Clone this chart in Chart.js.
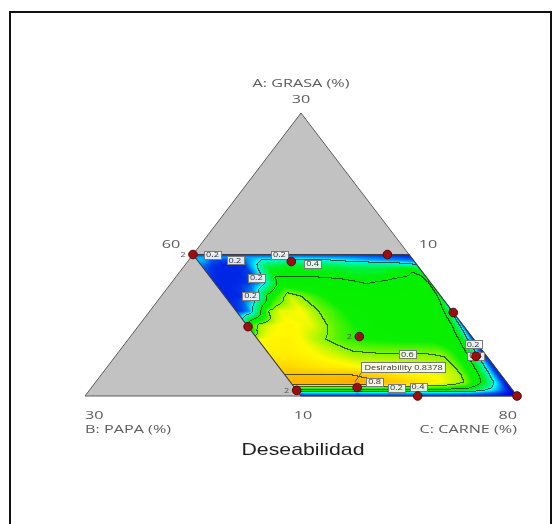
<!DOCTYPE html>
<html>
<head>
<meta charset="utf-8">
<script src="https://cdn.jsdelivr.net/npm/chart.js@4.4.1/dist/chart.umd.min.js"></script>
<style>
  html, body { margin: 0; padding: 0; background: #ffffff; }
  canvas { display: block; }
</style>
</head>
<body>
<canvas id="chart" width="560" height="524"></canvas>
<script>
// ---- Mixture components (%), A + B + C = 100 ----
const axisTitles = ['A: GRASA (%)', 'B: PAPA (%)', 'C: CARNE (%)'];
const lowA = 10, lowB = 10, lowC = 60, span = 20;

// Simplex corners (A, B); C = 100 - A - B
const simplexA = [30, 10, 10];
const simplexB = [10, 30, 10];
const simplexTicks = ['30', '30', '80'];

// Constrained design region corners (A, B)
const regionA = [20, 20, 10, 10];
const regionB = [20, 10, 10, 20];
const regionTicks = ['60', '10', '10'];   // top-left (C), top-right (B), bottom-left (A)

// Desirability surface sampled on a grid of A (rows) and B (columns)
const gridA = [20, 19.8, 19.6, 19.3, 19, 18.5, 18, 17, 16, 15, 14, 13, 12, 11.5, 11, 10.8, 10.6, 10.4, 10.2, 10];
const gridB = [20, 19.7, 19.4, 19, 18.5, 18, 17, 16, 15, 14, 13, 12, 11, 10.5, 10.2, 10];
const desirability = [
  [0.03, 0.03, 0.03, 0.03, 0.03, 0.03, 0.03, 0.03, 0.03, 0.03, 0.03, 0.02, 0.02, 0.02, 0.02, 0.02],
  [0.12, 0.12, 0.11, 0.10, 0.10, 0.10, 0.12, 0.12, 0.12, 0.11, 0.10, 0.08, 0.06, 0.05, 0.04, 0.04],
  [0.14, 0.12, 0.06, 0.04, 0.04, 0.04, 0.20, 0.22, 0.22, 0.20, 0.16, 0.12, 0.10, 0.09, 0.08, 0.08],
  [0.10, 0.06, 0.03, 0.02, 0.02, 0.03, 0.30, 0.33, 0.31, 0.29, 0.27, 0.26, 0.24, 0.22, 0.20, 0.18],
  [0.06, 0.03, 0.02, 0.02, 0.02, 0.03, 0.35, 0.37, 0.36, 0.35, 0.33, 0.33, 0.36, 0.39, 0.37, 0.30],
  [0.03, 0.02, 0.02, 0.02, 0.02, 0.05, 0.39, 0.39, 0.39, 0.38, 0.36, 0.37, 0.39, 0.41, 0.40, 0.36],
  [0.02, 0.02, 0.02, 0.02, 0.03, 0.08, 0.43, 0.44, 0.43, 0.42, 0.395, 0.41, 0.44, 0.45, 0.43, 0.38],
  [0.02, 0.02, 0.02, 0.04, 0.15, 0.45, 0.66, 0.55, 0.47, 0.46, 0.45, 0.45, 0.46, 0.46, 0.42, 0.35],
  [0.03, 0.04, 0.10, 0.30, 0.60, 0.68, 0.70, 0.58, 0.50, 0.48, 0.47, 0.47, 0.48, 0.44, 0.35, 0.15],
  [0.30, 0.55, 0.63, 0.68, 0.70, 0.71, 0.68, 0.57, 0.50, 0.48, 0.47, 0.47, 0.48, 0.40, 0.25, 0.05],
  [0.69, 0.70, 0.71, 0.71, 0.71, 0.70, 0.61, 0.54, 0.50, 0.49, 0.48, 0.48, 0.47, 0.36, 0.15, 0.02],
  [0.72, 0.72, 0.72, 0.72, 0.71, 0.70, 0.66, 0.61, 0.60, 0.60, 0.60, 0.59, 0.46, 0.30, 0.08, 0.01],
  [0.76, 0.76, 0.76, 0.75, 0.74, 0.73, 0.72, 0.70, 0.69, 0.68, 0.67, 0.63, 0.42, 0.22, 0.06, 0.01],
  [0.80, 0.80, 0.80, 0.80, 0.80, 0.80, 0.80, 0.77, 0.74, 0.71, 0.69, 0.64, 0.40, 0.20, 0.05, 0.01],
  [0.82, 0.82, 0.82, 0.82, 0.82, 0.82, 0.8378, 0.81, 0.78, 0.74, 0.70, 0.62, 0.36, 0.17, 0.04, 0.01],
  [0.80, 0.81, 0.81, 0.81, 0.81, 0.81, 0.81, 0.78, 0.74, 0.70, 0.65, 0.56, 0.30, 0.14, 0.03, 0.00],
  [0.56, 0.58, 0.58, 0.58, 0.58, 0.58, 0.58, 0.57, 0.56, 0.55, 0.52, 0.45, 0.24, 0.10, 0.02, 0.00],
  [0.38, 0.40, 0.40, 0.40, 0.40, 0.40, 0.40, 0.40, 0.39, 0.38, 0.36, 0.32, 0.16, 0.06, 0.01, 0.00],
  [0.10, 0.12, 0.12, 0.12, 0.12, 0.12, 0.12, 0.12, 0.12, 0.12, 0.11, 0.10, 0.05, 0.02, 0.00, 0.00],
  [0.02, 0.02, 0.02, 0.02, 0.02, 0.02, 0.02, 0.02, 0.02, 0.02, 0.02, 0.01, 0.01, 0.00, 0.00, 0.00]
];
const contourLevels = [0.2, 0.4, 0.6, 0.8];

// Design points (A, B) and replicate counts
const pointA = [20, 20, 19.5, 14.9, 15.9, 14.2, 12.8, 10, 10, 10.6, 10.4];
const pointB = [20, 11, 15.7, 20, 10, 15.2, 10.5, 10, 14.6, 17.1, 20];
const pointRuns = [2, 1, 1, 1, 1, 2, 1, 1, 1, 1, 2];

// Contour value tags (A, B, text)
const tagA = [20, 20, 19.58, 19.33, 18.34, 17.07, 12.95, 13.67, 12.83, 10.99, 10.57, 10.67];
const tagB = [19.1, 16.0, 18.27, 14.8, 17.9, 18.8, 13.6, 10.2, 10.5, 16.1, 15.3, 14.25];
const tagText = ['0.2', '0.2', '0.2', '0.4', '0.2', '0.2', '0.6', '0.2', '0.4', '0.8', '0.2', '0.4'];

// Optimum flag
const optimumA = 11, optimumB = 17;
const chartTitle = 'Deseabilidad';

// ---- helpers ----
function toXY(A, B) {
  const a = (A - lowA) / span, b = (B - lowB) / span, c = 1 - a - b;
  return { x: c + a / 2, y: a };
}
function fromXY(x, y) {
  const a = y, c = x - a / 2, b = 1 - a - c;
  return { A: lowA + span * a, B: lowB + span * b };
}
function bracket(arr, v) {
  for (let i = 0; i < arr.length - 1; i++) {
    if (v <= arr[i] && v >= arr[i + 1]) return [i, (arr[i] - v) / (arr[i] - arr[i + 1])];
  }
  return v > arr[0] ? [0, 0] : [arr.length - 2, 1];
}
function sample(A, B) {
  const [i, t] = bracket(gridA, A);
  const [j, s] = bracket(gridB, B);
  const r0 = desirability[i], r1 = desirability[i + 1];
  const top = r0[j] * (1 - s) + r0[j + 1] * s;
  const bot = r1[j] * (1 - s) + r1[j + 1] * s;
  return top * (1 - t) + bot * t;
}
// colour ramp: blue - cyan - green - yellow - orange - red
const stopVals = [0, 0.17, 0.38, 0.50, 0.70, 0.85, 1.0];
const stopRGB = [[0, 10, 225], [0, 245, 255], [0, 240, 0], [10, 240, 0], [255, 250, 0], [255, 160, 0], [255, 0, 0]];
function colour(v) {
  if (v <= stopVals[0]) return stopRGB[0];
  for (let k = 0; k < stopVals.length - 1; k++) {
    if (v <= stopVals[k + 1]) {
      const f = (v - stopVals[k]) / (stopVals[k + 1] - stopVals[k]);
      const p = stopRGB[k], q = stopRGB[k + 1];
      return [p[0] + (q[0] - p[0]) * f, p[1] + (q[1] - p[1]) * f, p[2] + (q[2] - p[2]) * f];
    }
  }
  return stopRGB[stopRGB.length - 1];
}
function wideText(ctx, txt, x, y, align, font, color, sx) {
  ctx.save();
  ctx.font = font;
  ctx.fillStyle = color;
  ctx.textAlign = align;
  ctx.textBaseline = 'alphabetic';
  ctx.translate(x, y);
  ctx.scale(sx, 1);
  ctx.fillText(txt, 0, 0);
  ctx.restore();
}
function px(chart, A, B) {
  const p = toXY(A, B);
  return { x: chart.scales.x.getPixelForValue(p.x), y: chart.scales.y.getPixelForValue(p.y) };
}

// ---- surface with contour lines, painted inside the design region ----
function drawSurface(chart) {
  const ctx = chart.ctx, xs = chart.scales.x, ys = chart.scales.y;
  const corners = regionA.map((A, i) => px(chart, A, regionB[i]));
  const x0 = Math.floor(Math.min(...corners.map(p => p.x))) - 2;
  const x1 = Math.ceil(Math.max(...corners.map(p => p.x))) + 2;
  const y0 = Math.floor(Math.min(...corners.map(p => p.y))) - 2;
  const y1 = Math.ceil(Math.max(...corners.map(p => p.y))) + 2;
  const w = x1 - x0, h = y1 - y0;
  const vals = new Float32Array(w * h);
  const aMin = gridA[gridA.length - 1], aMax = gridA[0];
  const bMin = gridB[gridB.length - 1], bMax = gridB[0];
  for (let j = 0; j < h; j++) {
    const dy = ys.getValueForPixel(y0 + j + 0.5);
    for (let i = 0; i < w; i++) {
      const dx = xs.getValueForPixel(x0 + i + 0.5);
      const m = fromXY(dx, dy);
      const A = Math.min(aMax, Math.max(aMin, m.A));
      const B = Math.min(bMax, Math.max(bMin, m.B));
      vals[j * w + i] = sample(A, B);
    }
  }
  const off = document.createElement('canvas');
  off.width = w; off.height = h;
  const octx = off.getContext('2d');
  const img = octx.createImageData(w, h);
  const line = [25, 45, 25], alpha = 0.75;
  for (let j = 0; j < h; j++) {
    for (let i = 0; i < w; i++) {
      const k = j * w + i, v = vals[k];
      let c = colour(v);
      let onLine = false;
      for (const L of contourLevels) {
        if (i < w - 1 && (v - L) * (vals[k + 1] - L) < 0) onLine = true;
        if (j < h - 1 && (v - L) * (vals[k + w] - L) < 0) onLine = true;
      }
      if (onLine) c = [c[0] * (1 - alpha) + line[0] * alpha, c[1] * (1 - alpha) + line[1] * alpha, c[2] * (1 - alpha) + line[2] * alpha];
      img.data[k * 4] = c[0];
      img.data[k * 4 + 1] = c[1];
      img.data[k * 4 + 2] = c[2];
      img.data[k * 4 + 3] = 255;
    }
  }
  octx.putImageData(img, 0, 0);
  ctx.save();
  ctx.beginPath();
  corners.forEach((p, i) => i ? ctx.lineTo(p.x, p.y) : ctx.moveTo(p.x, p.y));
  ctx.closePath();
  ctx.clip();
  ctx.drawImage(off, x0, y0);
  ctx.restore();
}

// ---- contour tags and optimum flag ----
function drawTags(chart) {
  const ctx = chart.ctx;
  const font = '7px "Open Sans"';
  ctx.save();
  ctx.font = font;
  tagText.forEach((t, i) => {
    const p = px(chart, tagA[i], tagB[i]);
    const tw = ctx.measureText(t).width * 1.3 + 4;
    ctx.fillStyle = 'rgba(248,248,248,0.9)';
    ctx.strokeStyle = '#7a7a7a';
    ctx.lineWidth = 1;
    ctx.fillRect(Math.round(p.x - tw / 2) + 0.5, Math.round(p.y - 4) + 0.5, Math.round(tw), 8);
    ctx.strokeRect(Math.round(p.x - tw / 2) + 0.5, Math.round(p.y - 4) + 0.5, Math.round(tw), 8);
    wideText(ctx, t, p.x, p.y + 2.5, 'center', font, '#333333', 1.3);
  });
  // optimum flag
  const best = desirability[gridA.indexOf(optimumA)][gridB.indexOf(optimumB)];
  const o = px(chart, optimumA, optimumB);
  const txt = 'Desirability ' + best.toFixed(4);
  const tw = ctx.measureText(txt).width * 1.3 + 6;
  const bx = Math.round(o.x + 6) + 0.5, by = Math.round(o.y - 20) + 0.5;
  ctx.strokeStyle = '#555555';
  ctx.beginPath();
  ctx.moveTo(o.x, o.y);
  ctx.lineTo(bx, by + 10);
  ctx.stroke();
  ctx.fillStyle = 'rgba(250,250,250,0.92)';
  ctx.strokeStyle = '#777777';
  ctx.fillRect(bx, by, Math.round(tw), 10);
  ctx.strokeRect(bx, by, Math.round(tw), 10);
  wideText(ctx, txt, bx + 3, by + 7.5, 'left', font, '#333333', 1.3);
  ctx.restore();
}

// ---- frame, axis texts ----
const framePlugin = {
  id: 'frame',
  beforeDraw(chart) {
    const ctx = chart.ctx;
    ctx.save();
    ctx.fillStyle = '#ffffff';
    ctx.fillRect(0, 0, chart.width, chart.height);
    ctx.strokeStyle = '#111111';
    ctx.lineWidth = 2;
    ctx.strokeRect(10, 12, 541, 530);
    ctx.restore();
  },
  afterDatasetDraw(chart, args) {
    if (args.index === 0) drawSurface(chart);
    if (args.index === 1) drawTags(chart);
  },
  afterDraw(chart) {
    const ctx = chart.ctx;
    const axisFont = '11px "Open Sans"';
    ctx.save();
    ctx.font = axisFont;
    const sx = 97 / ctx.measureText(axisTitles[0]).width;
    ctx.restore();
    const grey = '#5c5c5c';
    const top = px(chart, simplexA[0], simplexB[0]);
    const left = px(chart, simplexA[1], simplexB[1]);
    const right = px(chart, simplexA[2], simplexB[2]);
    const rTL = px(chart, regionA[0], regionB[0]);
    const rTR = px(chart, regionA[1], regionB[1]);
    const rBL = px(chart, regionA[3], regionB[3]);

    wideText(ctx, axisTitles[0], top.x, top.y - 26, 'center', axisFont, grey, sx);
    wideText(ctx, simplexTicks[0], top.x, top.y - 10, 'center', axisFont, grey, sx);
    wideText(ctx, simplexTicks[1], left.x, left.y + 23, 'left', axisFont, grey, sx);
    wideText(ctx, axisTitles[1], left.x, left.y + 37, 'left', axisFont, grey, sx);
    wideText(ctx, simplexTicks[2], right.x, right.y + 23, 'right', axisFont, grey, sx);
    wideText(ctx, axisTitles[2], right.x, right.y + 37, 'right', axisFont, grey, sx);
    wideText(ctx, regionTicks[0], rTL.x - 22, rTL.y - 6.5, 'center', axisFont, grey, sx);
    wideText(ctx, regionTicks[1], rTR.x + 19, rTR.y - 6.5, 'center', axisFont, grey, sx);
    wideText(ctx, regionTicks[2], rBL.x + 2, rBL.y + 23, 'center', axisFont, grey, sx);

    // replicate counts next to design points
    pointRuns.forEach((n, i) => {
      if (n > 1) {
        const p = px(chart, pointA[i], pointB[i]);
        wideText(ctx, String(n), p.x - 10, p.y + 2.5, 'center', '7px "Open Sans"', '#555555', 1.3);
      }
    });

    // chart title below the simplex
    const titleFont = '17px "Liberation Sans"';
    ctx.save();
    ctx.font = titleFont;
    const tsx = 123 / ctx.measureText(chartTitle).width;
    ctx.restore();
    wideText(ctx, chartTitle, (left.x + right.x) / 2 + 2, left.y + 59, 'center', titleFont, '#1e1e1e', tsx);
  }
};

const simplexPts = simplexA.map((A, i) => toXY(A, simplexB[i]));
simplexPts.push(simplexPts[0]);
const regionPts = regionA.map((A, i) => toXY(A, regionB[i]));
regionPts.push(regionPts[0]);
const designPts = pointA.map((A, i) => toXY(A, pointB[i]));

new Chart(document.getElementById('chart'), {
  type: 'scatter',
  data: {
    datasets: [
      {
        type: 'line',
        data: simplexPts,
        order: 3,
        showLine: true,
        fill: 'shape',
        backgroundColor: '#c2c2c2',
        borderColor: '#5e5e5e',
        borderWidth: 1,
        pointRadius: 0,
        tension: 0,
        clip: false
      },
      {
        type: 'line',
        data: regionPts,
        order: 2,
        showLine: true,
        fill: false,
        borderColor: '#3a3a4e',
        borderWidth: 1.2,
        pointRadius: 0,
        tension: 0,
        clip: false
      },
      {
        type: 'scatter',
        data: designPts,
        order: 1,
        pointRadius: 4.3,
        pointBackgroundColor: '#9a1010',
        pointBorderColor: '#5c0505',
        pointBorderWidth: 1,
        clip: false
      }
    ]
  },
  options: {
    responsive: false,
    devicePixelRatio: 1,
    animation: false,
    layout: { padding: { left: 85, right: 43, top: 113, bottom: 128 } },
    scales: {
      x: { type: 'linear', min: 0, max: 1, display: false },
      y: { type: 'linear', min: 0, max: 1, display: false }
    },
    plugins: { legend: { display: false }, tooltip: { enabled: false } }
  },
  plugins: [framePlugin]
});
</script>
</body>
</html>
